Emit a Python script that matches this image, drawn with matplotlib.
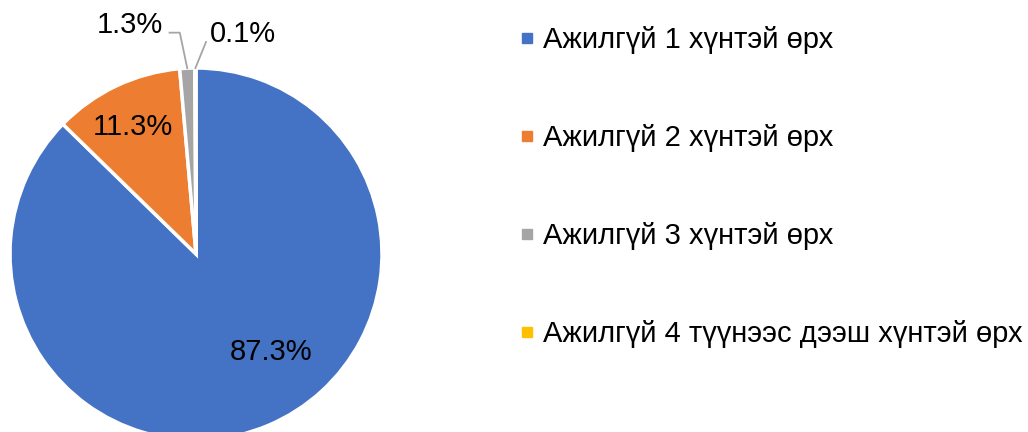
import numpy as np
import matplotlib.pyplot as plt
from matplotlib.lines import Line2D

plt.rcParams['font.family'] = ['Liberation Sans', 'DejaVu Sans']

# Datos
categorias = ['Ажилгүй 1 хүнтэй өрх', 'Ажилгүй 2 хүнтэй өрх',
              'Ажилгүй 3 хүнтэй өрх', 'Ажилгүй 4 түүнээс дээш хүнтэй өрх']
valores = [87.3, 11.3, 1.3, 0.1]
colores = ['#4472C4', '#ED7D31', '#A5A5A5', '#FFC000']

fig = plt.figure(figsize=(10.28, 4.32), dpi=100)
# el pastel se sale por abajo, como en el original
ax = fig.add_axes([10 / 1028, -8 / 432, 372 / 1028, 372 / 432])

wedges, _ = ax.pie(valores, colors=colores, startangle=90, counterclock=False,
                   radius=1, wedgeprops=dict(edgecolor='white', linewidth=2.5))
ax.set_xlim(-1, 1)
ax.set_ylim(-1, 1)
ax.set_aspect('equal')
ax.axis('off')

fs = 21

# etiquetas dentro de las porciones grandes
dentro = {0: (0.664, -52.6), 1: (0.762, 116.4)}
for i, (r, ang) in dentro.items():
    a = np.deg2rad(ang)
    ax.text(r * np.cos(a), r * np.sin(a), f'{valores[i]:.1f}%', fontsize=fs,
            ha='center', va='center')

# etiquetas fuera con líneas guía
def mid_angle(w):
    return np.deg2rad((w.theta1 + w.theta2) / 2)

# 1.3%
a = mid_angle(wedges[2])
x0, y0 = np.cos(a), np.sin(a)
codo = (x0 - 0.04, 1.19)
ax.plot([x0, codo[0], codo[0] - 0.055], [y0, codo[1], codo[1]],
        color='#A5A5A5', lw=1.3, clip_on=False)
ax.text(codo[0] - 0.09, codo[1] + 0.04, f'{valores[2]:.1f}%', fontsize=fs,
        ha='right', va='center')

# 0.1%
a = mid_angle(wedges[3])
x0, y0 = np.cos(a), np.sin(a)
fin = (x0 + 0.057, 1.14)
ax.plot([x0, fin[0]], [y0, fin[1]], color='#A5A5A5', lw=1.3, clip_on=False)
ax.text(fin[0] + 0.02, fin[1] + 0.045, f'{valores[3]:.1f}%', fontsize=fs,
        ha='left', va='center')

# leyenda
handles = [Line2D([], [], marker='s', ls='', markersize=7.2, color=c) for c in colores]
fig.legend(handles, categorias, loc='upper left', bbox_to_anchor=(518 / 1028, 1 - 26 / 432),
           frameon=False, fontsize=fs, labelspacing=2.4, handlelength=0.6,
           handletextpad=0.25, borderpad=0, borderaxespad=0)

plt.savefig('out.png', dpi=100)
